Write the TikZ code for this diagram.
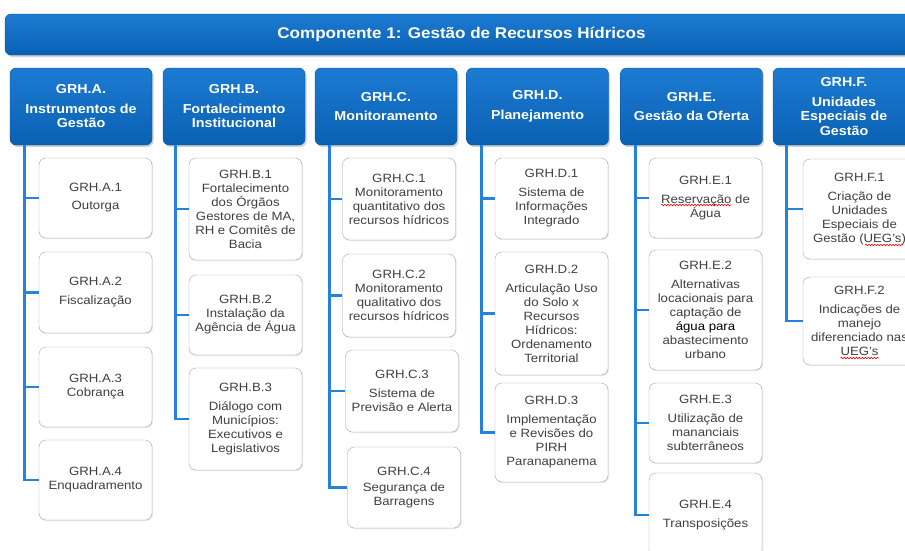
\documentclass[tikz,border=0pt]{standalone}
\usepackage{fontspec}
\setmainfont{Liberation Sans}[FakeStretch=1.1]
\usetikzlibrary{shadows,decorations.pathmorphing}

\definecolor{grhblue}{HTML}{0A61B3}
\definecolor{grhtop}{HTML}{1C7BD2}
\definecolor{grhline}{HTML}{2482DA}
\definecolor{boxline}{HTML}{A3A3A3}
\definecolor{boxtext}{HTML}{404040}

\tikzset{
	banner/.style={rounded corners=6pt, draw=grhblue!85!black, top color=grhtop, bottom color=grhblue,
		minimum width=913, minimum height=41, text=white, font=\bfseries\fontsize{15.5}{17}\selectfont,
		drop shadow={opacity=0.35, shadow xshift=1.5pt, shadow yshift=-2pt}},
	group/.style={rounded corners=6pt, draw=grhblue!85!black, top color=grhtop, bottom color=grhblue,
		minimum width=142, minimum height=77, text=white, align=center, font=\bfseries\fontsize{13}{14.5}\selectfont,
		drop shadow={opacity=0.35, shadow xshift=1.5pt, shadow yshift=-2pt}},
	item/.style={rounded corners=7pt, draw=boxline, fill=white, minimum width=113, minimum height=80,
		align=center, text=boxtext, font=\fontsize{12}{14}\selectfont,
		drop shadow={opacity=0.2, shadow xshift=1pt, shadow yshift=-1pt}},
	link/.style={draw=grhline, line width=2.8pt},
	spellmark/.style={draw=red, line width=0.6pt, decorate, decoration={snake, amplitude=0.8pt, segment length=3pt}}
}

\begin{document}
\begin{tikzpicture}[x=1pt, y=-1pt]
	\useasboundingbox (0,0) rectangle (905,550);
	\clip (0,0) rectangle (905,550);
	\node[banner] (comp) at (461.5,34.5) {Componente 1: Gestão de Recursos Hídricos};

	\node[group] (hA) at (81,106.5) {GRH.A.\\[5pt]Instrumentos de\\Gestão};
	\node[group] (hB) at (234,106.5) {GRH.B.\\[5pt]Fortalecimento\\Institucional};
	\node[group] (hC) at (386,106.5) {GRH.C.\\[5pt]Monitoramento};
	\node[group] (hD) at (537.5,106.5) {GRH.D.\\[5pt]Planejamento};
	\node[group] (hE) at (691.5,106.5) {GRH.E.\\[5pt]Gestão da Oferta};
	\node[group] (hF) at (844,106.5) {GRH.F.\\[5pt]Unidades\\Especiais de\\Gestão};

	\node[item] (a1) at (95.5,198) {GRH.A.1\\[4pt]Outorga};
	\node[item, minimum height=81] (a2) at (95.5,292.5) {GRH.A.2\\[5pt]Fiscalização};
	\node[item] (a3) at (95.5,387) {GRH.A.3\\Cobrança};
	\node[item] (a4) at (95.5,480) {GRH.A.4\\Enquadramento};

	\node[item, minimum height=102] (b1) at (245.5,209) {GRH.B.1\\Fortalecimento\\dos Órgãos\\Gestores de MA,\\RH e Comitês de\\Bacia};
	\node[item] (b2) at (245.5,315) {GRH.B.2\\Instalação da\\Agência de Água};
	\node[item, minimum height=102] (b3) at (245.5,419) {GRH.B.3\\[5pt]Diálogo com\\Municípios:\\Executivos e\\Legislativos};

	\node[item, minimum height=82] (c1) at (399,199) {GRH.C.1\\Monitoramento\\quantitativo dos\\recursos hídricos};
	\node[item, minimum height=83] (c2) at (399,295.5) {GRH.C.2\\Monitoramento\\qualitativo dos\\recursos hídricos};
	\node[item, minimum height=82] (c3) at (402,391) {GRH.C.3\\[5pt]Sistema de\\Previsão e Alerta};
	\node[item, minimum height=81] (c4) at (404,487.5) {GRH.C.4\\[2pt]Segurança de\\Barragens};

	\node[item, minimum height=81] (d1) at (551.5,198.5) {GRH.D.1\\[5pt]Sistema de\\Informações\\Integrado};
	\node[item, minimum height=123] (d2) at (551.5,313.5) {GRH.D.2\\[5pt]Articulação Uso\\do Solo x\\Recursos\\Hídricos:\\Ordenamento\\Territorial};
	\node[item, minimum height=99] (d3) at (551.5,432.5) {GRH.D.3\\[5pt]Implementação\\e Revisões do\\PIRH\\Paranapanema};

	\node[item] (e1) at (705.5,198) {GRH.E.1\\[5pt]Reservação de\\Água};
	\node[item, minimum height=120] (e2) at (705.5,310) {GRH.E.2\\[5pt]Alternativas\\locacionais para\\captação de\\\textcolor{black}{água para}\\abastecimento\\urbano};
	\node[item] (e3) at (705.5,423) {GRH.E.3\\[5pt]Utilização de\\mananciais\\subterrâneos};
	\node[item, minimum height=84] (e4) at (705.5,515) {GRH.E.4\\[5pt]Transposições};

	\node[item, minimum height=100] (f1) at (859.5,209) {GRH.F.1\\[5pt]Criação de\\Unidades\\Especiais de\\Gestão (UEG’s)};
	\node[item, minimum height=88] (f2) at (859.5,321) {GRH.F.2\\[5pt]Indicações de\\manejo\\diferenciado nas\\UEG’s};

	\draw[spellmark] ([shift={(-44.5,7)}]e1.center) -- ([shift={(25.5,7)}]e1.center);
	\draw[spellmark] ([shift={(5.5,36)}]f1.center) -- ([shift={(43.5,36)}]f1.center);
	\draw[spellmark] ([shift={(-19,37)}]f2.center) -- ([shift={(19,37)}]f2.center);

	\coordinate (lA) at ([xshift=15pt]hA.south west);
	\coordinate (lB) at ([xshift=13pt]hB.south west);
	\coordinate (lC) at ([xshift=15pt]hC.south west);
	\coordinate (lD) at ([xshift=15pt]hD.south west);
	\coordinate (lE) at ([xshift=15pt]hE.south west);
	\coordinate (lF) at ([xshift=14pt]hF.south west);
	\draw[link] (lA) |- (a1.west);
	\draw[link] (lA) |- (a2.west);
	\draw[link] (lA) |- (a3.west);
	\draw[link] (lA) |- (a4.west);
	\draw[link] (lB) |- (b1.west);
	\draw[link] (lB) |- (b2.west);
	\draw[link] (lB) |- (b3.west);
	\draw[link] (lC) |- (c1.west);
	\draw[link] (lC) |- (c2.west);
	\draw[link] (lC) |- (c3.west);
	\draw[link] (lC) |- (c4.west);
	\draw[link] (lD) |- (d1.west);
	\draw[link] (lD) |- (d2.west);
	\draw[link] (lD) |- (d3.west);
	\draw[link] (lE) |- (e1.west);
	\draw[link] (lE) |- (e2.west);
	\draw[link] (lE) |- (e3.west);
	\draw[link] (lE) |- (e4.west);
	\draw[link] (lF) |- (f1.west);
	\draw[link] (lF) |- (f2.west);
\end{tikzpicture}
\end{document}
